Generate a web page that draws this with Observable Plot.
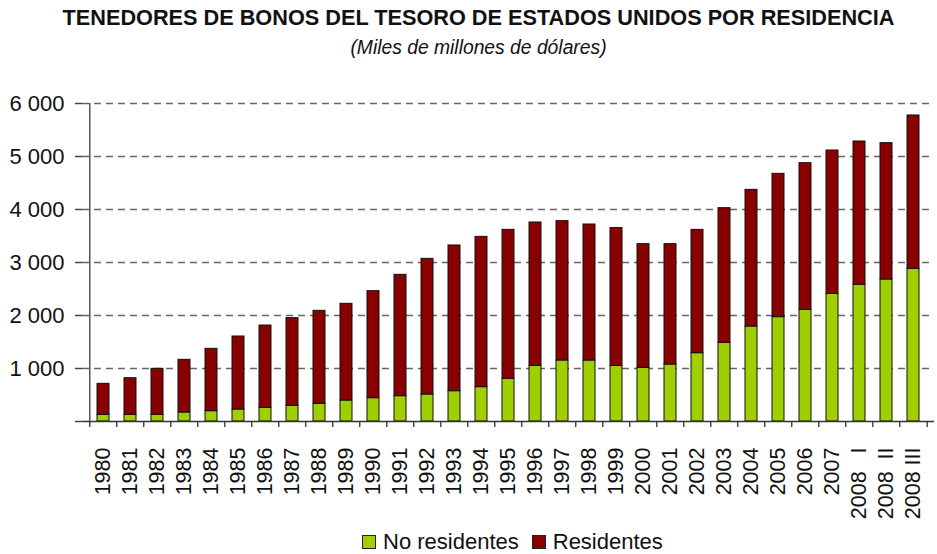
<!DOCTYPE html>
<html>
<head>
<meta charset="utf-8">
<script src="https://cdn.jsdelivr.net/npm/d3@7"></script>
<script src="https://cdn.jsdelivr.net/npm/@observablehq/plot@0.6"></script>
<style>
  body { margin: 0; background: #fff; font-family: "Liberation Sans", Arial, sans-serif; }
  #wrap { position: relative; width: 937px; height: 554px; overflow: hidden; }
  #header { position: relative; height: 70px; }
  #title { position: absolute; left: 20px; width: 917px; top: 6px; text-align: center; font-weight: bold; font-size: 21.7px; line-height: 24px; color: #111; white-space: nowrap; }
  #subtitle { position: absolute; left: 20px; width: 917px; top: 37px; text-align: center; font-style: italic; font-size: 19.3px; line-height: 22px; color: #111; white-space: nowrap; }
  #chart svg text { white-space: pre; }
  #legend { position: absolute; left: 362px; top: 530px; height: 24px; font-size: 22px; line-height: 24px; color: #111; display: flex; align-items: center; white-space: nowrap; }
  .sw { display: inline-block; width: 12px; height: 12px; border: 1px solid #222; margin-right: 7px; }
</style>
</head>
<body>
<div id="wrap">
  <div id="header">
    <div id="title">TENEDORES DE BONOS DEL TESORO DE ESTADOS UNIDOS POR RESIDENCIA</div>
    <div id="subtitle">(Miles de millones de dólares)</div>
  </div>
  <div id="chart"></div>
  <div id="legend"></div>
</div>
<script>
// ---- Data (billions of USD) ----
const categories = ["1980","1981","1982","1983","1984","1985","1986","1987","1988","1989",
  "1990","1991","1992","1993","1994","1995","1996","1997","1998","1999",
  "2000","2001","2002","2003","2004","2005","2006","2007","2008 I","2008 II","2008 III"];
const tickLabels = ["1980","1981","1982","1983","1984","1985","1986","1987","1988","1989",
  "1990","1991","1992","1993","1994","1995","1996","1997","1998","1999",
  "2000","2001","2002","2003","2004","2005","2006","2007","2008   I","2008  II","2008 III"];
const noResidentes = [126,126,126,170,195,226,258,296,333,396,
  440,478,509,572,648,805,1050,1151,1151,1047,
  1013,1075,1289,1484,1792,1969,2107,2409,2579,2679,2881];
const residentes = [585,691,868,994,1176,1378,1553,1654,1755,1824,
  2019,2289,2560,2749,2836,2811,2705,2629,2566,2603,
  2333,2271,2327,2541,2579,2704,2767,2704,2704,2573,2893];
const seriesNames = ["No residentes", "Residentes"];
const seriesColors = ["#9fcf00", "#880000"];
const yTicks = [0, 1000, 2000, 3000, 4000, 5000, 6000];

// ---- Build table ----
const rows = [];
categories.forEach((c, i) => {
  rows.push({cat: c, serie: seriesNames[0], value: noResidentes[i]});
  rows.push({cat: c, serie: seriesNames[1], value: residentes[i]});
});
const labelOf = new Map(categories.map((c, i) => [c, tickLabels[i]]));

const W = 937, H = 458, mL = 82, mR = 3, mT = 33, mB = 107;
const step = (W - mL - mR) / categories.length;
const fmt = d => d === 0 ? "" : d3.format(",")(d).replace(",", " ");

const chart = Plot.plot({
  width: W, height: H,
  marginLeft: mL, marginRight: mR, marginTop: mT, marginBottom: mB,
  style: {fontFamily: "Liberation Sans, Arial, sans-serif", background: "transparent", color: "#111"},
  x: {domain: categories, paddingInner: 0.56, paddingOuter: 0.28, axis: null},
  y: {domain: [0, 6000], axis: null},
  color: {domain: seriesNames, range: seriesColors},
  marks: [
    Plot.gridY(yTicks.slice(1), {stroke: "#666", strokeOpacity: 1, strokeWidth: 1.5, strokeDasharray: "7,5"}),
    Plot.barY(rows, Plot.stackY({order: seriesNames}, {x: "cat", y: "value", fill: "serie", stroke: "#111", strokeWidth: 1})),
    // vertical axis line
    Plot.ruleX([categories[0]], {dx: -step / 2, stroke: "#555", strokeWidth: 1.5}),
    // horizontal axis line
    Plot.ruleY([0], {stroke: "#333", strokeWidth: 1.5}),
    // y axis ticks and labels
    Plot.axisY({ticks: yTicks, tickSize: 7, tickPadding: 11, tickFormat: fmt, fontSize: 22, stroke: "#444", strokeWidth: 1.5, label: null}),
    // x boundary ticks
    Plot.ruleX(categories, {x: d => d, dx: -step / 2, y1: 0, y2: 0, insetBottom: -6, stroke: "#333", strokeWidth: 1.3}),
    Plot.ruleX([categories[categories.length - 1]], {x: d => d, dx: step / 2, y1: 0, y2: 0, insetBottom: -6, stroke: "#333", strokeWidth: 1.3}),
    // x labels
    Plot.axisX({tickSize: 0, tickPadding: 26, tickRotate: -90, fontSize: 21.5, tickFormat: d => labelOf.get(d), label: null})
  ]
});
document.getElementById("chart").appendChild(chart);

// ---- Legend ----
const legend = document.getElementById("legend");
seriesNames.forEach((name, i) => {
  const item = document.createElement("span");
  item.style.display = "inline-flex";
  item.style.alignItems = "center";
  item.style.marginRight = i === 0 ? "13px" : "0";
  const sw = document.createElement("span");
  sw.className = "sw";
  sw.style.background = seriesColors[i];
  item.appendChild(sw);
  item.appendChild(document.createTextNode(name));
  legend.appendChild(item);
});
</script>
</body>
</html>
